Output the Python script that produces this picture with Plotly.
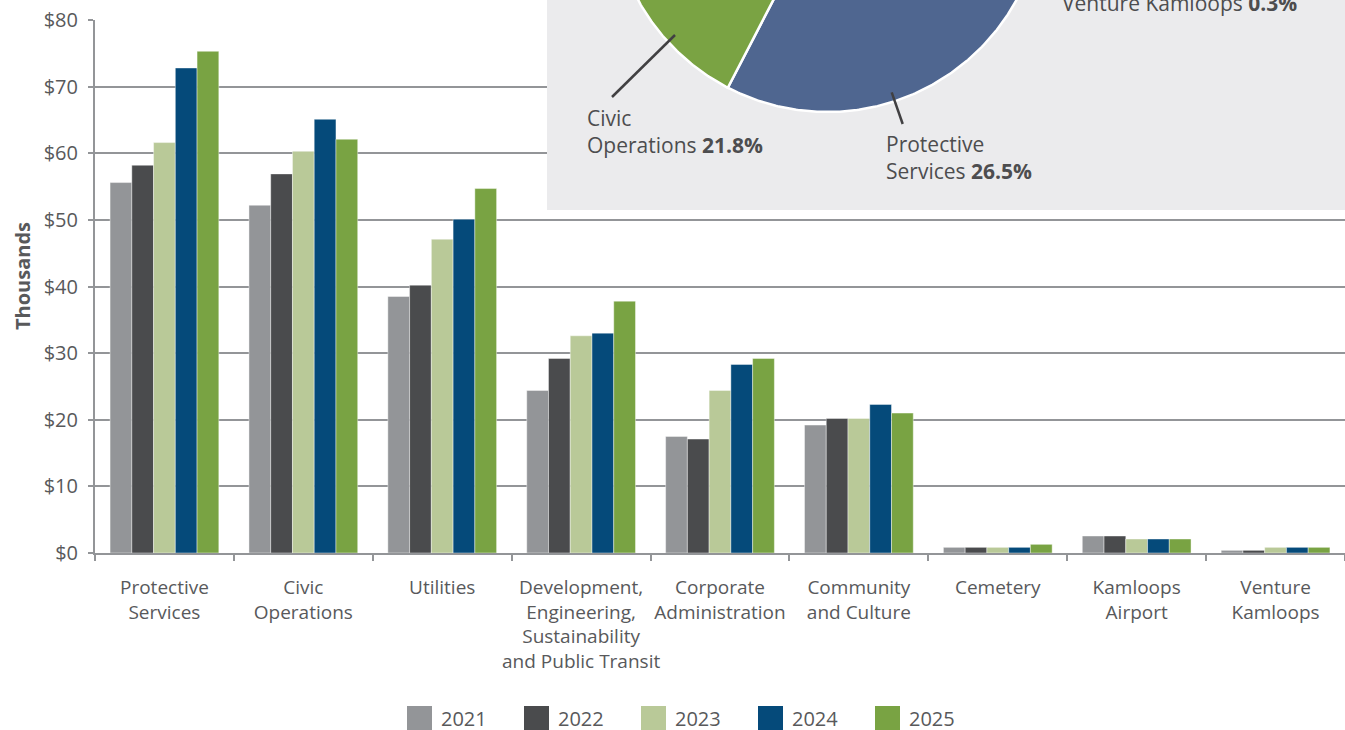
import numpy as np
import plotly.graph_objects as go

# budget by division, $ thousands
categories = ["Protective Services", "Civic Operations", "Utilities",
              "Development, Engineering, Sustainability and Public Transit",
              "Corporate Administration", "Community and Culture", "Cemetery",
              "Kamloops Airport", "Venture Kamloops"]
tick_labels = ["Protective<br>Services", "Civic<br>Operations", "Utilities",
               "Development,<br>Engineering,<br>Sustainability<br>and Public Transit",
               "Corporate<br>Administration", "Community<br>and Culture", "Cemetery",
               "Kamloops<br>Airport", "Venture<br>Kamloops"]
years = ["2021", "2022", "2023", "2024", "2025"]
v2021 = [55.6, 52.2, 38.5, 24.4, 17.5, 19.2, 0.85, 2.55, 0.4]
v2022 = [58.2, 56.9, 40.2, 29.2, 17.1, 20.2, 0.85, 2.55, 0.4]
v2023 = [61.6, 60.3, 47.1, 32.6, 24.4, 20.2, 0.85, 2.1, 0.85]
v2024 = [72.8, 65.1, 50.1, 33.0, 28.3, 22.3, 0.85, 2.1, 0.85]
v2025 = [75.3, 62.1, 54.7, 37.8, 29.2, 21.0, 1.3, 2.1, 0.85]
series = [v2021, v2022, v2023, v2024, v2025]
bar_colors = ["#939598", "#4a4b4d", "#b9c998", "#054a7a", "#79a343"]

# inset pie = 2025 share by division
pie_values = v2025
pie_colors = ["#4f6690", "#7aa343", "#b9c998", "#939598", "#4a4b4d",
              "#054a7a", "#c7d3e6", "#6d6e71", "#d1d3d4"]
pie_labels = {1: "Civic<br>Operations", 0: "Protective<br>Services",
              8: "Venture Kamloops"}

W, H = 1345, 730
ML, MR, MT, MB = 95, 0, 0, 177
TEXT = "#58595b"
GRID = "#939598"
FONT = "Open Sans"


def fx(px):
    return (px - ML) / (W - ML - MR)


def fy(py):
    return (H - MB - py) / (H - MB - MT)


fig = go.Figure()

for yr, vals, col in zip(years, series, bar_colors):
    fig.add_trace(go.Bar(x=categories, y=vals, name=yr, marker_color=col,
                         marker_line=dict(color="rgba(255,255,255,0.7)", width=0.6),
                         showlegend=False))

# pie drawn on a hidden axis pair, unit circle, clockwise from rotation
rotation = 337.9
total = sum(pie_values)
a0 = rotation
for i, v in enumerate(pie_values):
    span = v / total * 360
    ang = np.radians(np.linspace(a0, a0 - span, max(4, int(span * 2))))
    xs = np.concatenate([[0], np.cos(ang), [0]])
    ys = np.concatenate([[0], np.sin(ang), [0]])
    fig.add_trace(go.Scatter(x=xs, y=ys, mode="lines", fill="toself",
                             fillcolor=pie_colors[i],
                             line=dict(color="white", width=2.5),
                             xaxis="x2", yaxis="y2", showlegend=False,
                             hoverinfo="skip"))
    a0 -= span

r_px = 216.0
cx_px, cy_px = 827.3, -104.0
x2_range = [(547 - cx_px) / r_px, (W - cx_px) / r_px]
y2_range = [-(210 - cy_px) / r_px, -(0 - cy_px) / r_px]

fig.add_shape(type="rect", xref="x2", yref="y2", layer="below",
              x0=x2_range[0], x1=x2_range[1], y0=y2_range[0], y1=y2_range[1],
              fillcolor="#ebebed", line_width=0)

# pie labels
label_pos = {1: (585, 131), 0: (884, 157), 8: (1060, 3)}
for i, txt in pie_labels.items():
    pct = pie_values[i] / total * 100
    lx, ly = label_pos[i]
    fig.add_annotation(x=fx(lx), y=fy(ly), xref="paper", yref="paper",
                       text=f"{txt} <b>{pct:.1f}%</b>", showarrow=False,
                       xanchor="left", yanchor="middle", align="left",
                       font=dict(family=FONT, size=21, color="#4d4d4f"))

for (x0, y0, x1, y1) in [(675, 35, 612, 97), (891.7, 92.3, 902.7, 124)]:
    fig.add_shape(type="line", xref="paper", yref="paper", layer="above",
                  x0=fx(x0), y0=fy(y0), x1=fx(x1), y1=fy(y1),
                  line=dict(color="#414042", width=2.5))

# legend
for k, (yr, col) in enumerate(zip(years, bar_colors)):
    sx = 407 + 117 * k
    fig.add_shape(type="rect", xref="paper", yref="paper",
                  x0=fx(sx), x1=fx(sx + 25), y0=fy(706), y1=fy(731),
                  fillcolor=col, line_width=0)
    fig.add_annotation(x=fx(sx + 32), y=fy(718.5), xref="paper", yref="paper",
                       text=yr, showarrow=False, xanchor="left", yanchor="middle",
                       font=dict(family=FONT, size=20, color=TEXT))

fig.add_annotation(x=fx(22), y=fy(276), xref="paper", yref="paper",
                   text="<b>Thousands</b>", textangle=-90, showarrow=False,
                   xanchor="center", yanchor="middle",
                   font=dict(family=FONT, size=20, color=TEXT))

fig.update_layout(
    width=W, height=H,
    margin=dict(l=ML, r=MR, t=MT, b=MB, autoexpand=False),
    paper_bgcolor="white", plot_bgcolor="white",
    barmode="group", bargap=0.217, bargroupgap=0,
    font=dict(family=FONT, color=TEXT),
    xaxis=dict(tickmode="array", tickvals=categories, ticktext=tick_labels,
               tickangle=0, automargin=False,
               tickson="boundaries", ticks="outside", ticklen=6, tickwidth=2,
               tickcolor=GRID, showline=True, linecolor=GRID, linewidth=2,
               showgrid=False, tickfont=dict(size=19, color=TEXT),
               ticklabelstandoff=16),
    yaxis=dict(domain=[0, fy(20)], range=[0, 80], dtick=10, tickprefix="$",
               automargin=False,
               ticks="outside", ticklen=5, tickwidth=2, tickcolor=GRID,
               showline=True, linecolor=GRID, linewidth=2,
               showgrid=True, gridcolor=GRID, gridwidth=2, zeroline=False,
               tickfont=dict(size=20, color=TEXT), ticklabelstandoff=6),
    xaxis2=dict(domain=[fx(547), 1], range=x2_range, visible=False,
                anchor="y2", fixedrange=True),
    yaxis2=dict(domain=[fy(210), 1], range=y2_range, visible=False,
                anchor="x2", fixedrange=True),
)

fig.write_html("out.html", config={"displayModeBar": False},
               post_script="document.body.style.margin='0px';")
